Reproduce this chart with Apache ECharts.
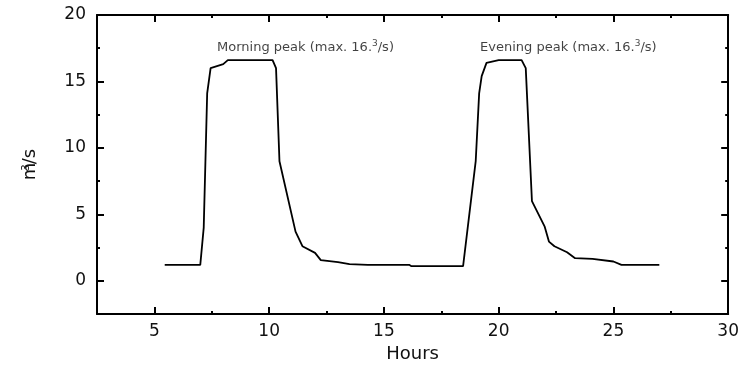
<!DOCTYPE html>
<html><head><meta charset="utf-8">
<script src="https://cdn.jsdelivr.net/npm/echarts@6/dist/echarts.min.js"></script>
<style>html,body{margin:0;padding:0;background:#fff}#c{width:742px;height:369px}</style>
</head><body><div id="c"></div>
<script>
// Data
const hours = [5.45,7.0,7.15,7.3,7.45,8.0,8.2,10.15,10.3,10.45,11.15,11.45,12.0,12.25,13.0,13.5,14.3,16.1,16.2,18.45,19.0,19.15,19.26,19.47,20.0,21.0,21.18,21.45,22.0,22.19,22.43,22.98,23.33,24.09,24.16,25.0,25.35,27.0];
const flow  = [1.2,1.2,4.0,14.1,16.0,16.3,16.6,16.6,16.0,9.0,3.7,2.6,2.1,1.55,1.4,1.25,1.2,1.2,1.1,1.1,9.0,14.1,15.4,16.4,16.6,16.6,16.0,6.0,4.1,2.95,2.6,2.15,1.7,1.65,1.5,1.45,1.2,1.2];
const xMajorTicks = [5,10,15,20,25];
const yMajorTicks = [0,5,10,15];
const xTickLabels = [5,10,15,20,25,30];
const yTickLabels = [0,5,10,15,20];
const annotX = [7.73, 19.19];
const annotY = [17.55, 17.55];
const annotPrefix = ['Morning peak (max. 16.', 'Evening peak (max. 16.'];

const FONT = 'DejaVu Sans';
const chart = echarts.init(document.getElementById('c'), null, {renderer:'canvas'});
const lineStyle = {color:'#000', width:2};
function xAxisDef(pos, major, withLine, labels, name){
  return {
    type:'value', position:pos, min:2.5, max:30, interval:2.5,
    axisLine:{show:withLine, onZero:false, lineStyle},
    axisTick:major ? {show:true, inside:true, length:7, lineStyle:{color:'#000',width:2}, customValues:xMajorTicks}
                   : {show:true, inside:true, length:3, lineStyle:{color:'#000',width:2}},
    axisLabel:labels ? {show:true, customValues:xTickLabels, fontFamily:FONT, fontSize:17, color:'#111', margin:9}
                     : {show:false},
    splitLine:{show:false},
    name:name||'', nameLocation:'middle', nameGap:31,
    nameTextStyle:{fontFamily:FONT, fontSize:18, color:'#111'}
  };
}
function yAxisDef(pos, major, withLine, labels, name){
  return {
    type:'value', position:pos, min:-2.5, max:20, interval:2.5,
    axisLine:{show:withLine, onZero:false, lineStyle},
    axisTick:major ? {show:true, inside:true, length:7, lineStyle:{color:'#000',width:2}, customValues:yMajorTicks}
                   : {show:true, inside:true, length:3, lineStyle:{color:'#000',width:2}},
    axisLabel:labels ? {show:true, customValues:yTickLabels, fontFamily:FONT, fontSize:17, color:'#111', margin:11}
                     : {show:false},
    splitLine:{show:false},
    name:name||'', nameLocation:'middle', nameGap:58, nameRotate:90,
    nameTextStyle:{fontFamily:FONT, fontSize:18, color:'#111',
      rich:{b:{fontFamily:FONT, fontSize:18, color:'#111'}, sup:{fontFamily:FONT, fontSize:10, color:'#111', verticalAlign:'top', padding:[0,0,8,-8]}}}
  };
}
const annotData = annotX.map((x,i)=>({value:[x, annotY[i]], prefix:annotPrefix[i]}));
chart.setOption({
  animation:false,
  backgroundColor:'#fff',
  grid:{left:97, right:10, top:15, bottom:55, containLabel:false},
  xAxis:[
    xAxisDef('bottom', false, true, true, 'Hours'),
    xAxisDef('bottom', true, false, false),
    xAxisDef('top', false, true, false),
    xAxisDef('top', true, false, false)
  ],
  yAxis:[
    Object.assign(yAxisDef('left', false, true, true), {name:'{b|m}{sup|3}{b|/s}'}),
    yAxisDef('left', true, false, false),
    yAxisDef('right', false, true, false),
    yAxisDef('right', true, false, false)
  ],
  series:[
    {type:'line', xAxisIndex:0, yAxisIndex:0, data:hours.map((h,i)=>[h, flow[i]]),
     showSymbol:false, symbol:'none', lineStyle:{color:'#000', width:1.8}, silent:true, z:3},
    {type:'scatter', xAxisIndex:0, yAxisIndex:0, symbolSize:0, data:annotData, silent:true,
     label:{show:true, position:'right', distance:0,
       formatter:p=>'{t|'+p.data.prefix+'}{sup|3}{t|/s)}',
       rich:{t:{fontFamily:FONT, fontSize:13, color:'#111'},
             sup:{fontFamily:FONT, fontSize:9, color:'#111', padding:[0,0,7,0]}}}}
  ]
});
</script></body></html>
